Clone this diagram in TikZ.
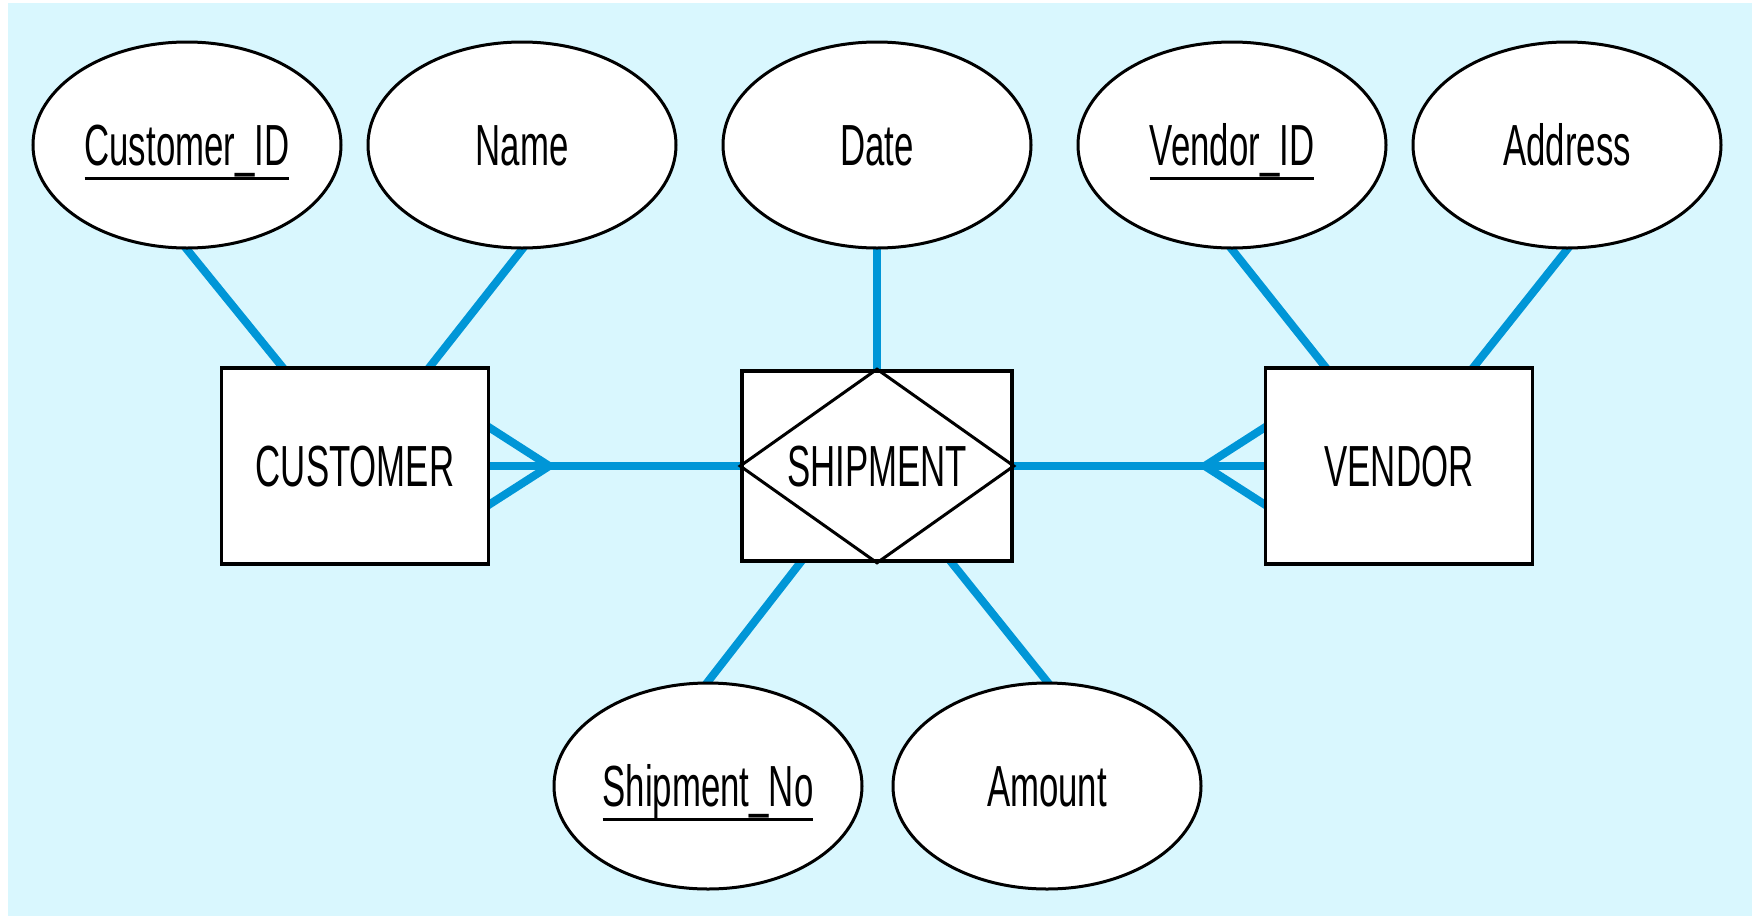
\documentclass[tikz,border=0pt]{standalone}
\usepackage{fontspec}
\setmainfont{Liberation Sans}[FakeStretch=0.6]
\usetikzlibrary{shapes.geometric}
\definecolor{bgc}{RGB}{217,247,254}
\definecolor{linec}{RGB}{0,150,215}
\pgfdeclarelayer{bgfill}
\pgfdeclarelayer{lines}
\pgfsetlayers{bgfill,lines,main}
\newcommand\keyattr[1]{\sbox0{#1}\rlap{\usebox0}\rule[-7pt]{\wd0}{1.3pt}}
\tikzset{
  attr/.style={ellipse, draw=black, line width=1.5pt, fill=white, inner sep=0pt,
    minimum width=154pt, minimum height=103pt, text height=20.8pt, text depth=0pt,
    font=\fontsize{29pt}{34pt}\selectfont},
  entity/.style={rectangle, draw=black, line width=1.8pt, fill=white, inner sep=0pt,
    minimum width=133.5pt, minimum height=98pt, text height=20.8pt, text depth=0pt,
    font=\fontsize{29pt}{34pt}\selectfont},
  conn/.style={draw=linec, line width=4pt, shorten <=-3pt, shorten >=-3pt},
  foot/.style={draw=linec, line width=4pt, line join=miter},
  diam/.style={draw=black, line width=1.5pt}
}
\begin{document}
\begin{tikzpicture}[x=0.5pt,y=-0.5pt]
\useasboundingbox (0,0) rectangle (1752,916);
\begin{pgfonlayer}{bgfill}
\fill[white] (0,0) rectangle (1752,916);
\fill[bgc] (8,3) rectangle (1752,916);
\end{pgfonlayer}

% attributes
\node[attr] (cid)  at (187,145) {\keyattr{Customer\_ID}};
\node[attr] (name) at (522,145) {Name};
\node[attr] (date) at (877,145) {Date};
\node[attr] (vid)  at (1232,145) {\keyattr{Vendor\_ID}};
\node[attr] (addr) at (1567,145) {Address};
\node[attr] (sno)  at (708,786) {\keyattr{Shipment\_No}};
\node[attr] (amt)  at (1047,786) {Amount};

% entities
\node[entity] (cust) at (355,466) {CUSTOMER};
\node[entity, minimum width=135pt, minimum height=95pt] (ship) at (877,466) {SHIPMENT};
\node[entity] (vend) at (1399,466) {VENDOR};
\draw[diam] (ship.north) -- (ship.east) -- (ship.south) -- (ship.west) -- cycle;

% connectors
\begin{pgfonlayer}{lines}
\coordinate (cfoot) at ([xshift=29.5pt]cust.east);
\coordinate (vfoot) at ([xshift=-29.5pt]vend.west);
\draw[conn] (cid.south) -- ([xshift=31pt]cust.north west);
\draw[conn] (name.south) -- ([xshift=-30pt]cust.north east);
\draw[conn] (date.south) -- (ship.north);
\draw[conn] (vid.south) -- ([xshift=30.5pt]vend.north west);
\draw[conn] (addr.south) -- ([xshift=-30pt]vend.north east);
\draw[conn] ([xshift=30pt]ship.south west) -- (sno.north);
\draw[conn] ([xshift=-31pt]ship.south east) -- (amt.north);
\draw[conn] (cust.east) -- (ship.west);
\draw[conn] (ship.east) -- (vend.west);
\draw[foot] ([xshift=-4pt,yshift=21.5pt]cust.east) -- (cfoot) -- ([xshift=-4pt,yshift=-21.5pt]cust.east);
\draw[foot] ([xshift=4pt,yshift=21.5pt]vend.west) -- (vfoot) -- ([xshift=4pt,yshift=-21.5pt]vend.west);
\end{pgfonlayer}
\end{tikzpicture}
\end{document}
